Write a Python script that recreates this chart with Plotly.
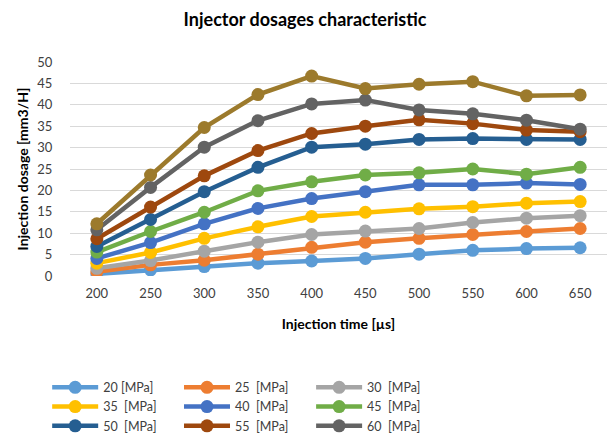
import plotly.graph_objects as go

times = [200, 250, 300, 350, 400, 450, 500, 550, 600, 650]
names = ["20 [MPa]", "25\u00a0 [MPa]", "30\u00a0 [MPa]", "35\u00a0 [MPa]", "40\u00a0 [MPa]",
         "45\u00a0 [MPa]", "50\u00a0 [MPa]", "55\u00a0 [MPa]", "60\u00a0 [MPa]", "65\u00a0 [MPa]"]
colors = ["#5B9BD5", "#ED7D31", "#A5A5A5", "#FFC000", "#4472C4",
          "#70AD47", "#255E91", "#9E480E", "#636363", "#9C7A2C"]

p20 = [0.5, 1.4, 2.2, 3.0, 3.5, 4.1, 5.1, 6.0, 6.4, 6.6]
p25 = [1.0, 2.6, 3.7, 5.1, 6.7, 7.9, 8.8, 9.7, 10.4, 11.1]
p30 = [1.8, 3.6, 5.8, 7.9, 9.7, 10.5, 11.1, 12.5, 13.5, 14.1]
p35 = [3.0, 5.5, 8.8, 11.5, 13.9, 14.9, 15.7, 16.2, 17.0, 17.4]
p40 = [4.1, 7.8, 12.2, 15.8, 18.1, 19.7, 21.3, 21.3, 21.7, 21.4]
p45 = [5.6, 10.4, 14.9, 19.9, 22.0, 23.6, 24.1, 25.0, 23.8, 25.4]
p50 = [6.9, 13.2, 19.7, 25.4, 30.1, 30.8, 31.9, 32.1, 31.9, 31.9]
p55 = [8.7, 16.1, 23.4, 29.3, 33.3, 35.0, 36.5, 35.6, 34.1, 33.7]
p60 = [10.8, 20.7, 30.1, 36.3, 40.2, 41.1, 38.8, 37.9, 36.4, 34.3]
p65 = [12.2, 23.6, 34.7, 42.4, 46.7, 43.8, 44.8, 45.4, 42.1, 42.3]

series = [p20, p25, p30, p35, p40, p45, p50, p55, p60, p65]
legend_ids = ["legend", "legend2", "legend3"]

fig = go.Figure()
for i, (nm, col, vals) in enumerate(zip(names, colors, series)):
    fig.add_trace(go.Scatter(
        x=times, y=vals, name=nm, mode="lines+markers",
        line=dict(color=col, width=4.5),
        marker=dict(color=col, size=13),
        showlegend=(i < 9),
        legend=legend_ids[i % 3],
    ))

font_family = "Lato, 'Open Sans', sans-serif"
leg_common = dict(orientation="v", y=-0.452, yanchor="top",
                  font=dict(size=12.5, color="#404040"),
                  tracegroupgap=0, itemwidth=46, bgcolor="rgba(0,0,0,0)")
fig.update_layout(
    width=610, height=437,
    margin=dict(l=70, r=3, t=62, b=161, autoexpand=False),
    paper_bgcolor="white", plot_bgcolor="white",
    font=dict(family=font_family, color="#595959", size=13),
    title=dict(text="<b>Injector dosages characteristic</b>",
               x=0.5, xanchor="center", y=1 - 20 / 437, yanchor="middle",
               font=dict(size=18, color="#000000", family=font_family)),
    xaxis=dict(range=[175, 675], tickmode="array", tickvals=times,
               ticktext=[str(t) for t in times],
               showgrid=False, zeroline=False, showline=False,
               ticks="outside", ticklen=5, tickcolor="rgba(0,0,0,0)",
               tickfont=dict(size=13, color="#404040"),
               title=dict(text="<b>Injection time [µs]</b>", standoff=19,
                          font=dict(size=14, color="#000000"))),
    yaxis=dict(range=[0, 50], dtick=5, showgrid=True, gridcolor="#D9D9D9",
               gridwidth=1.3, zeroline=False, showline=False,
               ticks="outside", ticklen=14, tickcolor="rgba(0,0,0,0)",
               tickfont=dict(size=13, color="#404040"),
               title=dict(text="<b>Injection dosage [mm3/H]</b>", standoff=5,
                          font=dict(size=14, color="#000000"))),
    legend=dict(x=-0.0425, xanchor="left", **leg_common),
    legend2=dict(x=0.203, xanchor="left", **leg_common),
    legend3=dict(x=0.449, xanchor="left", **leg_common),
)

fig.write_html("out.html", config={"displayModeBar": False},
               post_script="document.body.style.margin='0';")
